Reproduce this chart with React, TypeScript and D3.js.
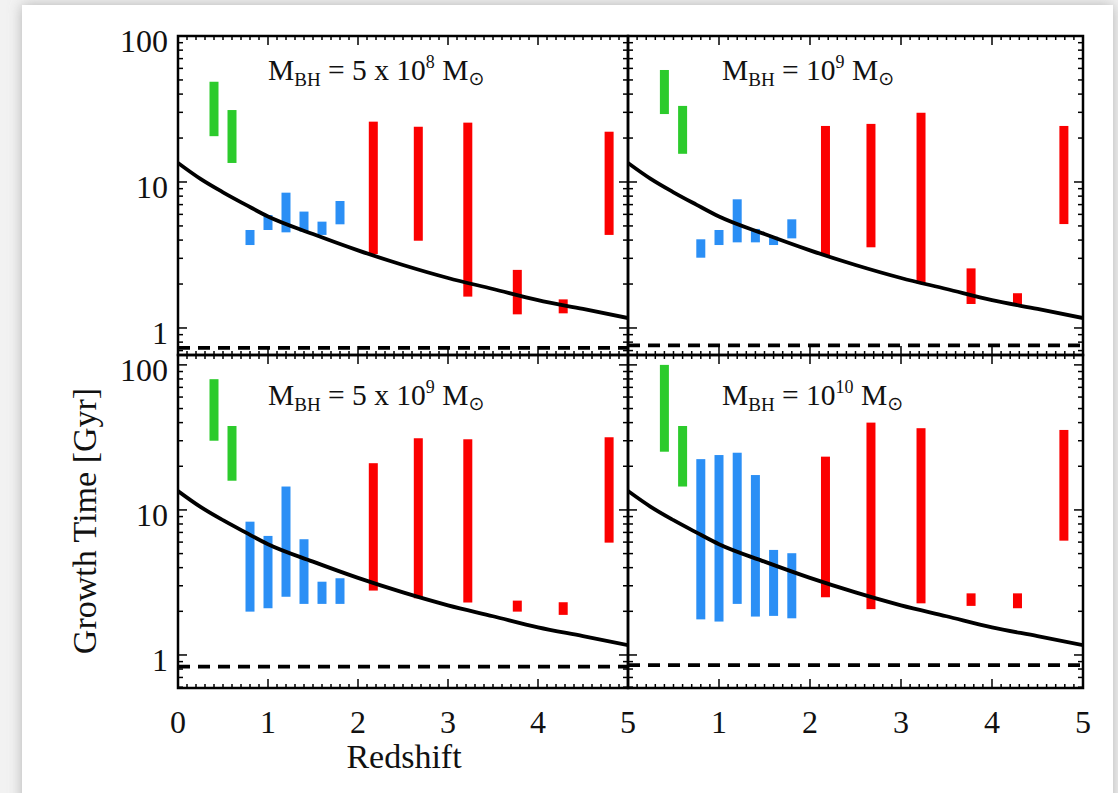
import React, { useEffect, useRef } from 'react';
import * as d3 from 'd3';

// redshift bin centres of the three samples
const greenZ = [0.4, 0.6];
const blueZ = [0.8, 1.0, 1.2, 1.4, 1.6, 1.8];
const redZ = [2.17, 2.67, 3.22, 3.77, 4.28, 4.79];

// growth time ranges [low, high] in Gyr, one list per panel and sample
const green5e8 = [[20.6, 48.6], [13.5, 31.1]];
const blue5e8 = [[3.7, 4.69], [4.69, 5.94], [4.52, 8.45], [4.57, 6.27], [4.34, 5.35], [5.13, 7.41]];
const red5e8 = [[3.21, 25.9], [3.96, 23.9], [1.64, 25.5], [1.24, 2.5], [1.26, 1.57], [4.34, 22.1]];

const green1e9 = [[29.2, 58.5], [15.6, 33.2]];
const blue1e9 = [[3.03, 4.05], [3.7, 4.69], [3.86, 7.61], [3.86, 4.77], [3.7, 4.22], [4.11, 5.55]];
const red1e9 = [[3.11, 24.2], [3.57, 25.0], [2.02, 29.8], [1.46, 2.56], [1.43, 1.73], [5.15, 24.2]];

const green5e9 = [[30.0, 79.7], [15.9, 37.9]];
const blue5e9 = [[1.99, 8.3], [2.1, 6.62], [2.52, 14.5], [2.25, 6.28], [2.25, 3.2], [2.25, 3.38]];
const red5e9 = [[2.78, 21.0], [2.46, 31.2], [2.3, 30.7], [1.99, 2.37], [1.89, 2.31], [5.95, 31.7]];

const green1e10 = [[25.2, 100], [14.5, 37.9]];
const blue1e10 = [[1.76, 22.4], [1.7, 23.9], [2.25, 24.8], [1.84, 17.4], [1.86, 5.3], [1.79, 5.03]];
const red1e10 = [[2.5, 23.3], [2.07, 40.0], [2.27, 36.6], [2.18, 2.66], [2.1, 2.66], [6.14, 35.6]];

// age of the universe curve
const ageZ = [0, 0.25, 0.5, 0.75, 1, 1.5, 2, 2.5, 3, 3.5, 4, 4.5, 5];
const ageGyr = [13.5, 10.5, 8.5, 7.0, 5.8, 4.4, 3.4, 2.7, 2.2, 1.85, 1.55, 1.35, 1.17];

// dashed horizontal level per panel
const floorLevel = [0.73, 0.76, 0.83, 0.85];

const titleCoef = ['5 x 10', '10', '5 x 10', '10'];
const titleExp = ['8', '9', '9', '10'];

const yTicks = [1, 10, 100];
const xTicksLeft = [0, 1, 2, 3, 4, 5];
const xTicksRight = [1, 2, 3, 4, 5];

const W = 1118;
const H = 793;
const FONT = '"Liberation Serif", "Times New Roman", serif';

export default function App() {
  const ref = useRef(null);

  useEffect(() => {
    const svg = d3.select(ref.current);
    svg.selectAll('*').remove();

    const defs = svg.append('defs');
    const f = defs.append('filter').attr('id', 'shadow').attr('x', -0.1).attr('y', -0.1).attr('width', 1.2).attr('height', 1.2);
    f.append('feDropShadow').attr('dx', 0).attr('dy', 0).attr('stdDeviation', 7).attr('flood-color', '#888').attr('flood-opacity', 0.6);

    svg.append('rect').attr('width', W).attr('height', H).attr('fill', '#f2f2f2');
    svg.append('rect').attr('x', 22).attr('y', 5).attr('width', 1091).attr('height', 820)
      .attr('fill', '#fff').attr('filter', 'url(#shadow)');

    const panels = [
      { x0: 178, x1: 628, y0: 36, y1: 355, dom: [0.653, 100], green: green5e8, blue: blue5e8, red: red5e8 },
      { x0: 628, x1: 1083, y0: 36, y1: 355, dom: [0.653, 100], green: green1e9, blue: blue1e9, red: red1e9 },
      { x0: 178, x1: 628, y0: 355, y1: 688, dom: [0.592, 117], green: green5e9, blue: blue5e9, red: red5e9 },
      { x0: 628, x1: 1083, y0: 355, y1: 688, dom: [0.592, 117], green: green1e10, blue: blue1e10, red: red1e10 },
    ];

    panels.forEach((p, i) => {
      const x = d3.scaleLinear().domain([0, 5]).range([p.x0, p.x1]);
      const y = d3.scaleLog().domain(p.dom).range([p.y1, p.y0]);
      const g = svg.append('g');
      const clipId = 'clip' + i;
      defs.append('clipPath').attr('id', clipId).append('rect')
        .attr('x', p.x0).attr('y', p.y0).attr('width', p.x1 - p.x0).attr('height', p.y1 - p.y0);
      const plot = g.append('g').attr('clip-path', `url(#${clipId})`);

      const drawBars = (zs, ranges, color) => {
        plot.selectAll(null).data(zs).enter().append('rect')
          .attr('x', (d) => x(d) - 4.5)
          .attr('width', 9)
          .attr('y', (d, k) => y(ranges[k][1]))
          .attr('height', (d, k) => y(ranges[k][0]) - y(ranges[k][1]))
          .attr('fill', color);
      };
      drawBars(greenZ, p.green, '#2ccb2c');
      drawBars(blueZ, p.blue, '#2b8ff5');
      drawBars(redZ, p.red, '#fb0000');

      const line = d3.line().x((d) => x(d[0])).y((d) => y(d[1])).curve(d3.curveMonotoneX);
      plot.append('path').datum(ageZ.map((z, k) => [z, ageGyr[k]]))
        .attr('d', line).attr('fill', 'none').attr('stroke', '#000').attr('stroke-width', 3.8);

      plot.append('line').attr('x1', p.x0).attr('x2', p.x1)
        .attr('y1', y(floorLevel[i])).attr('y2', y(floorLevel[i]))
        .attr('stroke', '#000').attr('stroke-width', 3.8).attr('stroke-dasharray', '12,8');

      // ticks
      const ax = g.append('g').attr('stroke', '#000').attr('stroke-width', 1.5);
      const xMinor = d3.range(0, 50).map((k) => k / 10);
      xMinor.forEach((v) => {
        const len = Math.abs(v - Math.round(v)) < 1e-6 ? 9 : 4;
        ax.append('line').attr('x1', x(v)).attr('x2', x(v)).attr('y1', p.y1).attr('y2', p.y1 - len);
        ax.append('line').attr('x1', x(v)).attr('x2', x(v)).attr('y1', p.y0).attr('y2', p.y0 + len);
      });
      const yAll = [];
      [0.1, 1, 10, 100].forEach((dec) => {
        for (let m = 1; m < 10; m++) yAll.push([dec * m, m === 1 ? 9 : 5]);
      });
      yAll.filter((t) => t[0] >= p.dom[0] && t[0] <= p.dom[1]).forEach(([v, len]) => {
        ax.append('line').attr('x1', p.x0).attr('x2', p.x0 + len).attr('y1', y(v)).attr('y2', y(v));
        ax.append('line').attr('x1', p.x1).attr('x2', p.x1 - len).attr('y1', y(v)).attr('y2', y(v));
      });

      g.append('rect').attr('x', p.x0).attr('y', p.y0).attr('width', p.x1 - p.x0).attr('height', p.y1 - p.y0)
        .attr('fill', 'none').attr('stroke', '#000').attr('stroke-width', 2.5);

      // y tick labels on the left panels
      if (i % 2 === 0) {
        g.selectAll(null).data(yTicks).enter().append('text')
          .attr('x', 168).attr('y', (d) => y(d) + 16)
          .attr('text-anchor', 'end').attr('font-family', FONT).attr('font-size', 32).attr('fill', '#111')
          .text((d) => d);
      }
      // x tick labels on the bottom panels
      if (i >= 2) {
        g.selectAll(null).data(i === 2 ? xTicksLeft : xTicksRight).enter().append('text')
          .attr('x', (d) => x(d)).attr('y', 733)
          .attr('text-anchor', 'middle').attr('font-family', FONT).attr('font-size', 32).attr('fill', '#111')
          .text((d) => d);
      }

      // panel title
      const t = g.append('text').attr('x', i % 2 === 0 ? 268 : 722).attr('y', i < 2 ? 80 : 405)
        .attr('font-family', FONT).attr('font-size', 29.5).attr('fill', '#111');
      t.append('tspan').text('M');
      t.append('tspan').attr('font-size', 19).attr('dy', 6).text('BH');
      t.append('tspan').attr('dy', -6).text(' = ' + titleCoef[i]);
      t.append('tspan').attr('font-size', 18).attr('dy', -12).text(titleExp[i]);
      t.append('tspan').attr('dy', 12).text(' M');
      t.append('tspan').attr('font-size', 19).attr('dy', 5).attr('font-family', 'DejaVu Sans').text('\u2299');
    });

    svg.append('text').attr('x', 404).attr('y', 768).attr('text-anchor', 'middle')
      .attr('font-family', FONT).attr('font-size', 34).attr('fill', '#111').text('Redshift');
    svg.append('text').attr('transform', 'translate(96,521) rotate(-90)').attr('text-anchor', 'middle')
      .attr('font-family', FONT).attr('font-size', 34).attr('fill', '#111').text('Growth Time [Gyr]');
  });

  return (
    <svg ref={ref} width={W} height={H} style={{ position: 'absolute', left: 0, top: 0 }}></svg>
  );
}
